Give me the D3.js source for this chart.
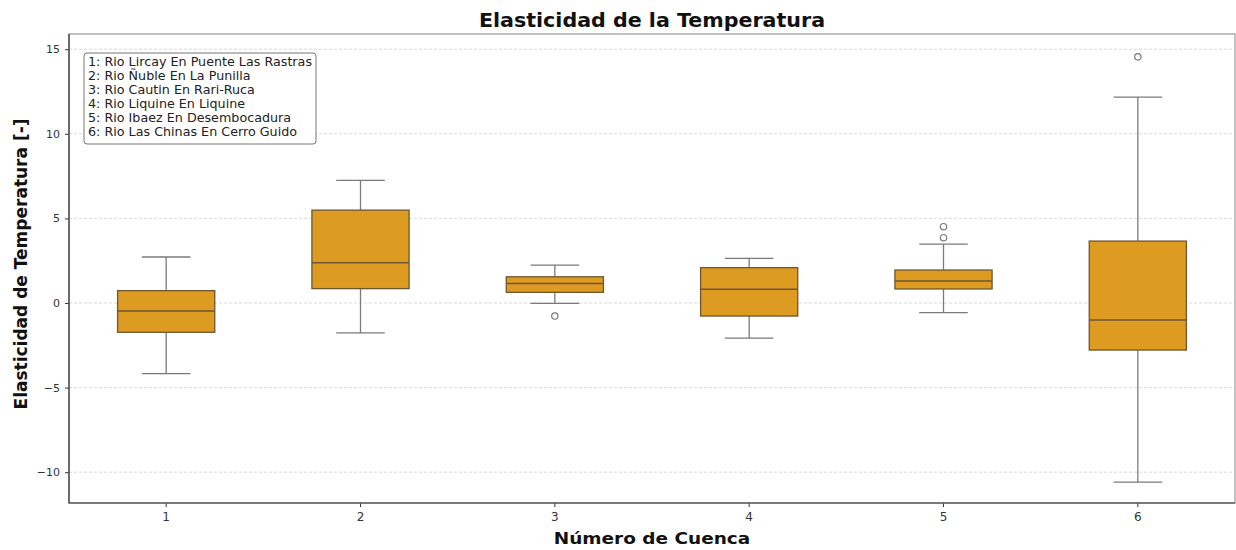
<!DOCTYPE html>
<html>
<head>
<meta charset="utf-8">
<script src="https://cdn.jsdelivr.net/npm/d3@7"></script>
<style>
  body { margin: 0; background: #fff; }
  text { font-family: "DejaVu Sans", sans-serif; }
</style>
</head>
<body>
<div id="chart"></div>
<script>
// Cuencas (categories) and legend names
const cuencas = ["1", "2", "3", "4", "5", "6"];
const nombres = [
  "1: Rio Lircay En Puente Las Rastras",
  "2: Rio Ñuble En La Punilla",
  "3: Rio Cautin En Rari-Ruca",
  "4: Rio Liquine En Liquine",
  "5: Rio Ibaez En Desembocadura",
  "6: Rio Las Chinas En Cerro Guido"
];

// box statistics
const whiskerLow = [-4.17, -1.77, -0.02, -2.07, -0.57, -10.59];
const q1 = [-1.73, 0.85, 0.63, -0.77, 0.83, -2.78];
const median = [-0.47, 2.38, 1.16, 0.81, 1.30, -1.0];
const q3 = [0.73, 5.49, 1.55, 2.09, 1.95, 3.66];
const whiskerHigh = [2.72, 7.25, 2.24, 2.64, 3.48, 12.17];
const outliers = [[], [], [-0.77], [], [4.51, 3.86], [14.55]];

const yTicks = [-10, -5, 0, 5, 10, 15];

const W = 1236, H = 550;
const margin = { top: 34, right: 1, bottom: 47, left: 69 };
const width = W - margin.left - margin.right,
  height = H - margin.top - margin.bottom;

const svgRoot = d3.select("#chart").append("svg")
  .attr("width", W)
  .attr("height", H);

const svg = svgRoot.append("g")
  .attr("transform", `translate(${margin.left}, ${margin.top})`);

const x = d3.scaleBand().domain(cuencas).range([0, width]);
const y = d3.scaleLinear().domain([-11.82, 15.9]).range([height, 0]);

// grid
svg.append("g")
  .selectAll("line")
  .data(yTicks)
  .join("line")
  .attr("x1", 0).attr("x2", width)
  .attr("y1", d => y(d)).attr("y2", d => y(d))
  .attr("stroke", "#cfcfcf")
  .attr("stroke-width", 0.8)
  .attr("stroke-dasharray", "3,2");

// axes
const yAxis = svg.append("g")
  .call(d3.axisLeft(y).tickValues(yTicks).tickSize(4).tickPadding(5)
    .tickFormat(d => d < 0 ? "\u2212" + Math.abs(d) : d));
yAxis.select(".domain").remove();
yAxis.selectAll("text").attr("font-size", 11).attr("fill", "#333");
yAxis.selectAll("line").attr("stroke", "#333");

const xAxis = svg.append("g")
  .attr("transform", `translate(0, ${height})`)
  .call(d3.axisBottom(x).tickSize(4).tickPadding(5));
xAxis.select(".domain").remove();
xAxis.selectAll("text").attr("font-size", 12).attr("fill", "#333");
xAxis.selectAll("line").attr("stroke", "#333");

// spines
svg.append("rect")
  .attr("x", 0).attr("y", 0)
  .attr("width", width).attr("height", height)
  .attr("fill", "none")
  .attr("stroke", "#999")
  .attr("stroke-width", 1.2);
svg.append("path")
  .attr("d", `M0,0V${height}H${width}`)
  .attr("fill", "none")
  .attr("stroke", "#333")
  .attr("stroke-width", 1.2);

// boxes
const boxW = x.bandwidth() * 0.5;
const capW = boxW * 0.5;
const lineCol = "#7a7a7a";
const edgeCol = "#6e5630";

const boxes = svg.append("g")
  .selectAll("g")
  .data(cuencas)
  .join("g")
  .attr("transform", d => `translate(${x(d) + x.bandwidth() / 2}, 0)`);

boxes.append("line")
  .attr("x1", 0).attr("x2", 0)
  .attr("y1", (d, i) => y(q3[i])).attr("y2", (d, i) => y(whiskerHigh[i]))
  .attr("stroke", lineCol).attr("stroke-width", 1.3);
boxes.append("line")
  .attr("x1", 0).attr("x2", 0)
  .attr("y1", (d, i) => y(q1[i])).attr("y2", (d, i) => y(whiskerLow[i]))
  .attr("stroke", lineCol).attr("stroke-width", 1.3);
boxes.append("line")
  .attr("x1", -capW / 2).attr("x2", capW / 2)
  .attr("y1", (d, i) => y(whiskerHigh[i])).attr("y2", (d, i) => y(whiskerHigh[i]))
  .attr("stroke", lineCol).attr("stroke-width", 1.3);
boxes.append("line")
  .attr("x1", -capW / 2).attr("x2", capW / 2)
  .attr("y1", (d, i) => y(whiskerLow[i])).attr("y2", (d, i) => y(whiskerLow[i]))
  .attr("stroke", lineCol).attr("stroke-width", 1.3);

boxes.append("rect")
  .attr("x", -boxW / 2)
  .attr("width", boxW)
  .attr("y", (d, i) => y(q3[i]))
  .attr("height", (d, i) => y(q1[i]) - y(q3[i]))
  .attr("fill", "#de9b22")
  .attr("stroke", edgeCol)
  .attr("stroke-width", 1.3);

boxes.append("line")
  .attr("x1", -boxW / 2).attr("x2", boxW / 2)
  .attr("y1", (d, i) => y(median[i])).attr("y2", (d, i) => y(median[i]))
  .attr("stroke", edgeCol).attr("stroke-width", 1.5);

boxes.each(function (d, i) {
  d3.select(this).selectAll("circle")
    .data(outliers[i])
    .join("circle")
    .attr("cx", 0)
    .attr("cy", v => y(v))
    .attr("r", 3.2)
    .attr("fill", "none")
    .attr("stroke", lineCol)
    .attr("stroke-width", 1.2);
});

// legend box
const leg = svg.append("g").attr("transform", "translate(15, 19)");
leg.append("rect")
  .attr("width", 232).attr("height", 91)
  .attr("rx", 3)
  .attr("fill", "rgba(255,255,255,0.85)")
  .attr("stroke", "#777")
  .attr("stroke-width", 1);
leg.append("g")
  .attr("transform", "translate(4, 0) scale(1.06, 1)")
  .selectAll("text")
  .data(nombres)
  .join("text")
  .attr("x", 0)
  .attr("y", (d, i) => 13 + i * 14)
  .attr("font-size", 12)
  .attr("fill", "#222")
  .text(d => d);

// titles (picture is slightly stretched sideways, so scale x a bit)
function label(txt, cx, cy, size, sx) {
  svgRoot.append("g")
    .attr("transform", `translate(${cx}, ${cy}) scale(${sx}, 1)`)
    .append("text")
    .attr("text-anchor", "middle")
    .attr("font-size", size)
    .attr("font-weight", "bold")
    .attr("fill", "#111")
    .text(txt);
}
label("Elasticidad de la Temperatura", margin.left + width / 2, 27, 19, 1.085);
label("Número de Cuenca", margin.left + width / 2, 544, 16.5, 1.12);

svgRoot.append("text")
  .attr("transform", "translate(27, 264) rotate(-90)")
  .attr("text-anchor", "middle")
  .attr("font-size", 17)
  .attr("font-weight", "bold")
  .attr("fill", "#111")
  .text("Elasticidad de Temperatura [-]");
</script>
</body>
</html>
